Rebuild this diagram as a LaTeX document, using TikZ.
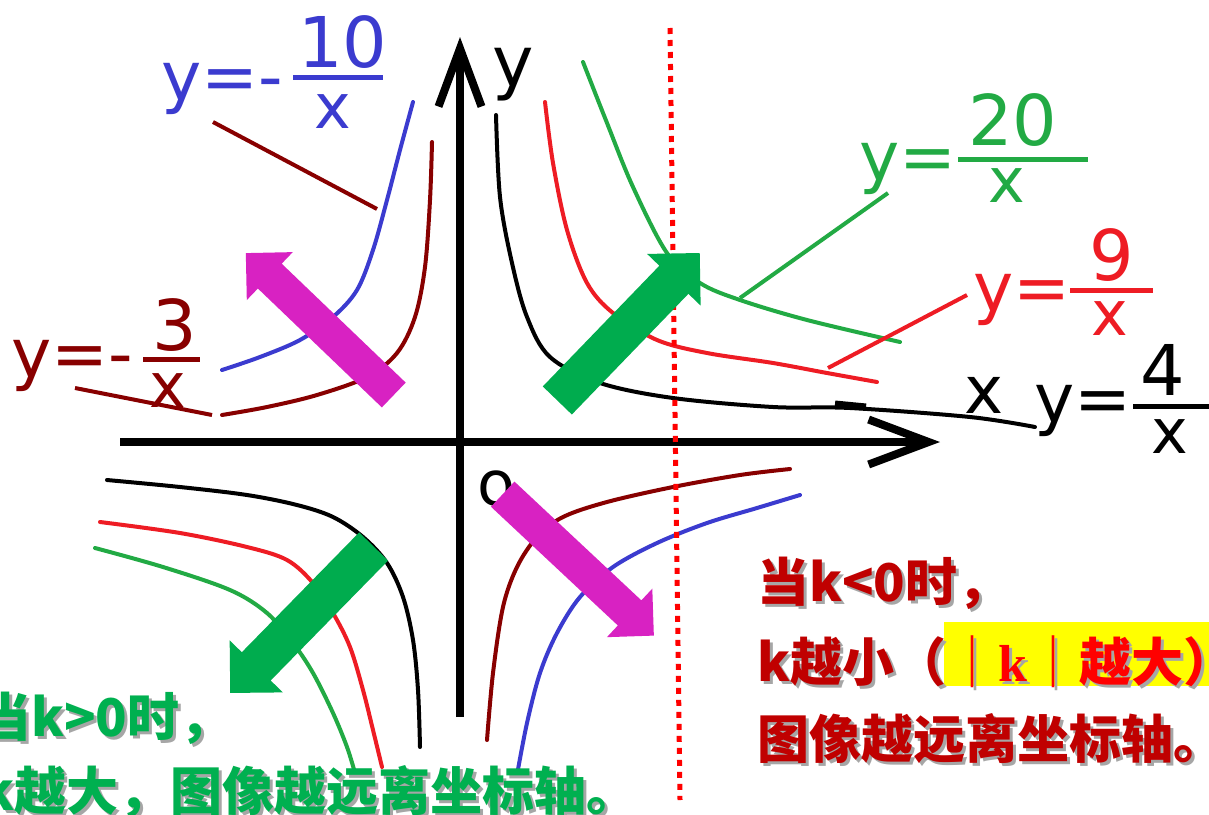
\documentclass[tikz,border=0pt]{standalone}
\usepackage{fontspec}
\setmainfont{DejaVu Sans}
\newfontfamily\cjk{Noto Sans CJK SC}
\newfontfamily\serifk{Liberation Serif}
\usetikzlibrary{arrows.meta,shapes.arrows}

\definecolor{kblue}{HTML}{3B3BCF}
\definecolor{kmaroon}{HTML}{880000}
\definecolor{kred}{HTML}{EE1C24}
\definecolor{kgreen}{HTML}{22AA44}
\definecolor{arrowgreen}{HTML}{00AC4E}
\definecolor{arrowpink}{HTML}{D822C2}
\definecolor{txtgreen}{HTML}{00B050}
\definecolor{txtdarkred}{HTML}{C00000}
\definecolor{txtred}{HTML}{FF0000}
\definecolor{shadowgray}{HTML}{A6A6A6}
\definecolor{hilite}{HTML}{FFFF00}

% text with a grey drop shadow
\newcommand{\shtext}[2]{\makebox[0pt][l]{\hspace{3pt}\raisebox{-3pt}{\textcolor{shadowgray}{#2}}}\textcolor{#1}{#2}}

\begin{document}
\begin{tikzpicture}[x=1pt, y=-1pt,
  curve/.style={line width=4pt, line cap=round, smooth, tension=0.55},
  leader/.style={line width=4pt},
  axis/.style={line width=8pt},
  bar/.style={line width=5pt},
  lbl/.style={font=\fontsize{68}{70}\selectfont, inner sep=0pt, anchor=base west},
  num/.style={font=\fontsize{70}{72}\selectfont, inner sep=0pt, anchor=base},
  den/.style={font=\fontsize{62}{64}\selectfont, inner sep=0pt, anchor=base},
  zh/.style={font=\cjk\bfseries\fontsize{52}{56}\selectfont, inner sep=0pt, anchor=base west},
  greenarrow/.style={single arrow, fill=arrowgreen, inner xsep=0pt, inner ysep=20pt, single arrow head extend=17pt},
  pinkarrow/.style={single arrow, fill=arrowpink, inner xsep=0pt, inner ysep=17pt, single arrow head extend=16pt},
]
  \fill[white] (0,0) rectangle (1209,814);
  \useasboundingbox (0,0) rectangle (1209,814);

  % k > 0 branches
  \draw[curve, black] plot coordinates {(496,115) (500,197) (512,263) (527,317) (550,357) (600,383) (673,398) (773,407) (850,408) (970,417) (1035,427)};
  \draw[line width=7pt] (835,404) -- (866,407);
  \draw[curve, kred] plot coordinates {(545,102) (553,163) (567,230) (587,283) (613,313) (657,340) (707,353) (773,363) (827,373) (877,382)};
  \draw[curve, kgreen] plot coordinates {(583,62) (607,123) (633,187) (667,253) (700,283) (740,300) (807,320) (900,342)};
  \draw[curve, black] plot coordinates {(107,480) (180,487) (247,495) (297,505) (333,517) (363,537) (387,563) (403,597) (413,640) (418,690) (420,747)};
  \draw[curve, kred] plot coordinates {(100,522) (180,533) (247,547) (287,560) (313,583) (333,613) (350,647) (363,690) (373,730) (382,767)};
  \draw[curve, kgreen] plot coordinates {(95,548) (163,567) (230,590) (267,613) (293,643) (313,673) (333,713) (347,747) (355,773)};

  % k < 0 branches
  \draw[curve, kblue] plot coordinates {(413,102) (400,150) (387,200) (373,250) (357,290) (333,317) (300,340) (260,357) (222,370)};
  \draw[curve, kmaroon] plot coordinates {(432,142) (430,200) (425,267) (415,317) (397,353) (367,377) (317,395) (267,407) (222,415)};
  \draw[curve, kmaroon] plot coordinates {(487,740) (493,673) (503,607) (517,567) (537,537) (563,517) (607,502) (673,487) (740,475) (790,469)};
  \draw[curve, kblue] plot coordinates {(517,775) (527,723) (540,673) (557,633) (580,597) (613,567) (657,543) (707,523) (757,508) (800,495)};

  % leaders
  \draw[leader, kmaroon] (213,122) -- (377,209);
  \draw[leader, kmaroon] (75,388) -- (212,415);
  \draw[leader, kgreen] (740,298) -- (888,193);
  \draw[leader, kred] (828,368) -- (967,295);

  % axes
  \draw[axis, -{Straight Barb[length=60pt, width=45pt]}] (120,442) -- (940,442);
  \draw[axis, -{Straight Barb[length=58pt, width=43pt]}] (460,717) -- (460,37);
  \node[num, font=\fontsize{70}{72}\selectfont] (ylab) at (513,86) {y};
  \node[num, font=\fontsize{66}{68}\selectfont] (xlab) at (984,413) {x};
  \node[num, font=\fontsize{62}{64}\selectfont] (olab) at (496,505) {o};

  \draw[red, line width=5pt, dash pattern=on 6pt off 6pt] (670,28) -- (680,800);

  % function labels
  \node[lbl, kblue] (fA) at (161,100) {y=-};
  \node[num, kblue] (fAnum) at (343,67) {10};
  \draw[bar, kblue] (293,77) -- (383,77);
  \node[den, kblue] (fAden) at (333,128) {x};

  \node[lbl, kmaroon] (fB) at (11,377) {y=-};
  \node[num, kmaroon] (fBnum) at (175,350) {3};
  \draw[bar, kmaroon] (143,359) -- (200,359);
  \node[den, kmaroon] (fBden) at (168,407) {x};

  \node[lbl, kgreen] (fC) at (859,180) {y=};
  \node[num, kgreen] (fCnum) at (1013,145) {20};
  \draw[bar, kgreen] (958,159) -- (1088,159);
  \node[den, kgreen] (fCden) at (1007,202) {x};

  \node[lbl, kred] (fD) at (973,311) {y=};
  \node[num, kred] (fDnum) at (1112,280) {9};
  \draw[bar, kred] (1070,290) -- (1153,290);
  \node[den, kred] (fDden) at (1110,335) {x};

  \node[lbl] (fE) at (1034,422) {y=};
  \node[num] (fEnum) at (1163,395) {4};
  \draw[bar] (1133,406) -- (1215,406);
  \node[den] (fEden) at (1170,453) {x};

  % direction arrows
  \node[greenarrow, minimum height=205pt, rotate=46] (upGreen) at (621.5,334) {};
  \node[greenarrow, minimum height=205pt, rotate=225.6] (downGreen) at (309,612.5) {};
  \node[pinkarrow, minimum height=205pt, rotate=136.2] (upPink) at (326,330) {};
  \node[pinkarrow, minimum height=207pt, rotate=-43.1] (downPink) at (572,559) {};

  % statements
  \fill[hilite] (944,622) rectangle (1209,686);
  \node[zh] (negA) at (757,601) {\shtext{txtdarkred}{当k<0时，}};
  \node[zh] (negB) at (757,681) {\shtext{txtdarkred}{k越小（}\shtext{txtred}{｜{\serifk k}｜越大）}};
  \node[zh] (negC) at (757,758) {\shtext{txtdarkred}{图像越远离坐标轴。}};
  \node[zh] (posA) at (-21,736) {\shtext{txtgreen}{当k>0时，}};
  \node[zh] (posB) at (-19,810) {\shtext{txtgreen}{k越大，图像越远离坐标轴。}};
\end{tikzpicture}
\end{document}
